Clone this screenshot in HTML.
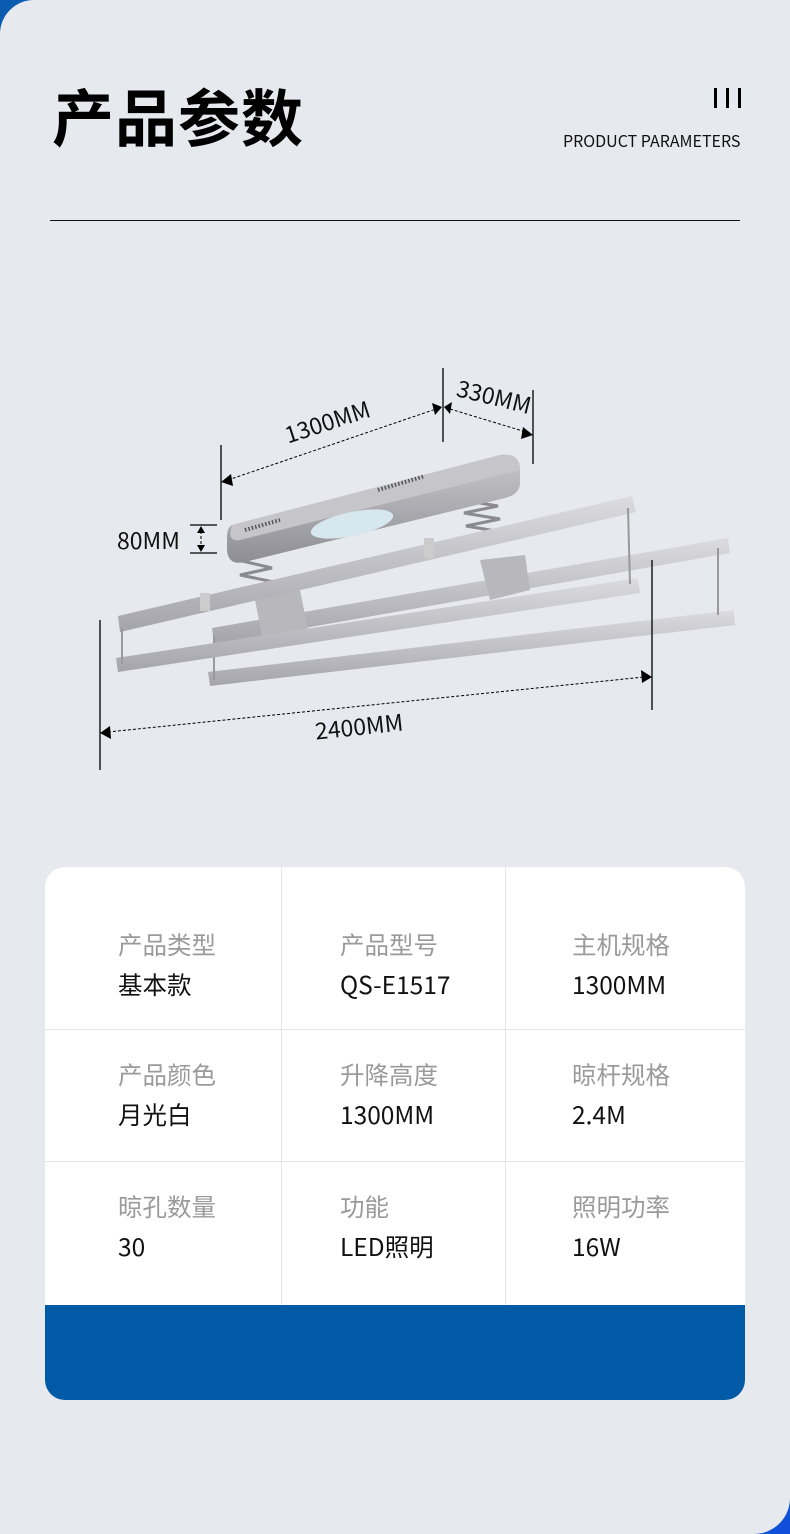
<!DOCTYPE html>
<html><head><meta charset="utf-8"><style>
html,body{margin:0;padding:0}
body{width:790px;height:1534px;position:relative;overflow:hidden;background:#1050d8;font-family:"Liberation Sans","Noto Sans CJK SC",sans-serif}
.bg{position:absolute;left:0;top:0;width:790px;height:1534px;background:#e6e9ee;border-radius:34px 0 36px 0}
.tl{position:absolute;left:0;top:0;width:60px;height:60px;background:#0a5cb0;z-index:0}
.title{position:absolute;left:52px;top:73px;font-size:62px;font-weight:bold;font-family:"Noto Sans CJK SC",sans-serif;color:#000;letter-spacing:1px;line-height:82px}
.bars{position:absolute;left:714px;top:88px;width:28px;height:20px}
.bars i{position:absolute;top:0;width:3px;height:20px;background:#000}
.en{position:absolute;left:563px;top:128px;font-size:16px;color:#111;font-family:"Noto Sans CJK SC",sans-serif;letter-spacing:0px;white-space:nowrap}
.rule{position:absolute;left:50px;top:220px;width:690px;height:1px;background:#111}
.tbl{position:absolute;left:45px;top:867px;width:700px;height:533px;background:#fff;border-radius:20px;overflow:hidden}
.vl{position:absolute;top:0;width:1px;height:438px;background:#e3e5ea}
.hl{position:absolute;left:0;width:700px;height:1px;background:#e3e5ea}
.band{position:absolute;left:0;top:438px;width:700px;height:95px;background:#005aa5}
.c{position:absolute;font-family:"Noto Sans CJK SC",sans-serif;font-size:24.5px;line-height:30px;white-space:nowrap}
.l{color:#9a9a9a}.v{color:#111}
</style></head><body>
<div class="tl"></div>
<div class="bg"></div>
<div class="title">产品参数</div>
<div class="bars"><i style="left:0"></i><i style="left:12px"></i><i style="left:24px"></i></div>
<div class="en">PRODUCT PARAMETERS</div>
<div class="rule"></div>

<svg style="position:absolute;left:0;top:0" width="790" height="860" xmlns="http://www.w3.org/2000/svg">
<defs>
<linearGradient id="g1" x1="0" y1="0" x2="0" y2="1"><stop offset="0" stop-color="#dcdce0"/><stop offset="1" stop-color="#a4a4aa"/></linearGradient>
<linearGradient id="g2" x1="0" y1="0" x2="0" y2="1"><stop offset="0" stop-color="#c8c8cc"/><stop offset="1" stop-color="#8e8e94"/></linearGradient>
</defs>
<g stroke="#8a8a90" stroke-width="3" fill="none">
<polyline points="238,560 272,568 240,575 274,582 240,589 272,596"/>
<polyline points="462,500 498,506 464,513 500,519 466,526 502,532"/>
</g>
<polygon points="212,628 728,538 730,553 214,644" fill="url(#g1)"/>
<polygon points="208,672 734,610 735,625 210,686" fill="url(#g1)"/>
<line x1="214" y1="636" x2="214" y2="680" stroke="#999" stroke-width="2"/>
<line x1="718" y1="548" x2="718" y2="615" stroke="#999" stroke-width="2"/>
<polygon points="255,600 300,590 310,640 265,650" fill="#b8b8bc"/>
<polygon points="480,560 525,555 530,590 490,600" fill="#b8b8bc"/>
<path d="M232,525 L500,455 Q520,452 520,470 L520,485 Q518,495 505,498 L245,562 Q228,566 227,550 L227,538 Q227,528 232,525 Z" fill="url(#g2)"/>
<path d="M232,525 L500,455 Q520,452 520,470 L240,540 Q226,542 232,525 Z" fill="#c6c6ca"/>
<ellipse cx="352" cy="524" rx="42" ry="12" fill="#d6e8ee" transform="rotate(-12 352 524)"/>
<g stroke="#555" stroke-width="1">
<line x1="245" y1="530" x2="280" y2="520" stroke-dasharray="1.5 2" stroke-width="4"/>
<line x1="378" y1="490" x2="425" y2="476" stroke-dasharray="1.5 2" stroke-width="4"/>
</g>
<polygon points="118,616 632,496 636,512 120,632" fill="url(#g1)"/>
<polygon points="116,658 638,578 640,593 118,672" fill="url(#g1)"/>
<line x1="122" y1="628" x2="122" y2="664" stroke="#999" stroke-width="2"/>
<line x1="628" y1="508" x2="630" y2="584" stroke="#999" stroke-width="2"/>
<rect x="424" y="538" width="10" height="20" fill="#ccc"/>
<rect x="200" y="593" width="10" height="18" fill="#ccc"/>
<g stroke="#000" stroke-width="1.3" fill="none">
<line x1="221" y1="445" x2="221" y2="520"/>
<line x1="443" y1="368" x2="443" y2="442"/>
<line x1="533" y1="390" x2="533" y2="464"/>
<line x1="100" y1="620" x2="100" y2="770"/>
<line x1="652" y1="560" x2="652" y2="710"/>
<line x1="190" y1="525" x2="217" y2="525"/>
<line x1="190" y1="553" x2="217" y2="553"/>
</g>
<g stroke="#000" stroke-width="1" stroke-dasharray="3 2" fill="none">
<line x1="228" y1="480" x2="436" y2="409"/>
<line x1="450" y1="409" x2="526" y2="432"/>
<line x1="108" y1="732" x2="644" y2="677"/>
<line x1="201" y1="531" x2="201" y2="547"/>
</g>
<g fill="#000">
<polygon points="221,482 231,474 233,486"/>
<polygon points="442,407 432,403 435,415"/>
<polygon points="444,407 452,402 450,414"/>
<polygon points="533,435 523,427 521,439"/>
<polygon points="100,733 110,726 111,739"/>
<polygon points="652,677 641,670 642,683"/>
<polygon points="201,526 197,533 205,533"/>
<polygon points="201,552 197,545 205,545"/>
</g>
<g font-family="Noto Sans CJK SC, sans-serif" font-size="23" fill="#111">
<text x="330" y="430" text-anchor="middle" transform="rotate(-18 330 430)">1300MM</text>
<text x="492" y="405" text-anchor="middle" transform="rotate(14 492 405)">330MM</text>
<text x="117" y="549">80MM</text>
<text x="360" y="735" text-anchor="middle" transform="rotate(-6 360 735)">2400MM</text>
</g>
</svg>

<div class="tbl">
<div class="vl" style="left:236px"></div>
<div class="vl" style="left:460px"></div>
<div class="hl" style="top:162px"></div>
<div class="hl" style="top:294px"></div>
<div class="band"></div>
<div class="c l" style="left:73px;top:63px">产品类型</div><div class="c v" style="left:73px;top:103px">基本款</div>
<div class="c l" style="left:295px;top:63px">产品型号</div><div class="c v" style="left:295px;top:103px">QS-E1517</div>
<div class="c l" style="left:527px;top:63px">主机规格</div><div class="c v" style="left:527px;top:103px">1300MM</div>
<div class="c l" style="left:73px;top:193px">产品颜色</div><div class="c v" style="left:73px;top:233px">月光白</div>
<div class="c l" style="left:295px;top:193px">升降高度</div><div class="c v" style="left:295px;top:233px">1300MM</div>
<div class="c l" style="left:527px;top:193px">晾杆规格</div><div class="c v" style="left:527px;top:233px">2.4M</div>
<div class="c l" style="left:73px;top:325px">晾孔数量</div><div class="c v" style="left:73px;top:365px">30</div>
<div class="c l" style="left:295px;top:325px">功能</div><div class="c v" style="left:295px;top:365px">LED照明</div>
<div class="c l" style="left:527px;top:325px">照明功率</div><div class="c v" style="left:527px;top:365px">16W</div>
</div>
</body></html>
